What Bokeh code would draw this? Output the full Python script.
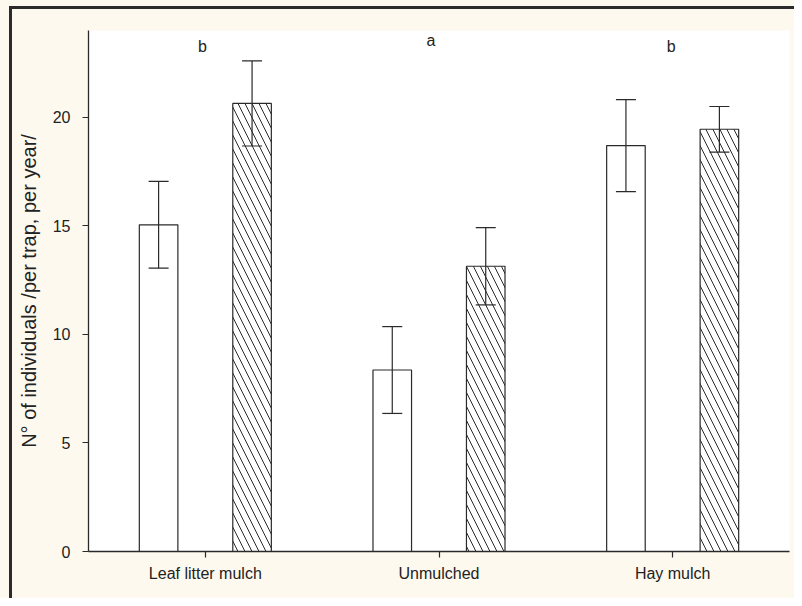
from bokeh.plotting import figure
from bokeh.models import ColumnDataSource, Whisker, TeeHead, Range1d, FixedTicker
from bokeh.transform import dodge
from bokeh.core.properties import value
from bokeh.embed import file_html
from bokeh.resources import INLINE

# ---- data ----
categories = ["Leaf litter mulch", "Unmulched", "Hay mulch"]
open_means = [15.05, 8.36, 18.70]
open_err = [2.0, 2.0, 2.12]
hatched_means = [20.64, 13.14, 19.45]
hatched_err = [1.96, 1.78, 1.05]
letters = ["b", "a", "b"]
letter_y = [23.0, 23.27, 23.0]
letter_dx = [-3, -8, -1.5]
y_ticks = [0, 5, 10, 15, 20]
y_label = "N\u00b0 of individuals /per trap, per year/"

src = ColumnDataSource(dict(
    cat=categories,
    open=open_means,
    open_hi=[m + e for m, e in zip(open_means, open_err)],
    open_lo=[m - e for m, e in zip(open_means, open_err)],
    hat=hatched_means,
    hat_hi=[m + e for m, e in zip(hatched_means, hatched_err)],
    hat_lo=[m - e for m, e in zip(hatched_means, hatched_err)],
    letter=letters,
    ly=letter_y,
    ldx=letter_dx,
))

FONT = "Liberation Sans"
INK = "#2a2a2a"
CREAM = "#fef9ee"
DARK = "#2b2b2b"

p = figure(x_range=categories, y_range=Range1d(0, 24),
           width=794, height=598, output_backend="svg", toolbar_location=None,
           min_border_left=88, min_border_right=5, min_border_top=30, min_border_bottom=47)
p.x_range.range_padding = 0
p.background_fill_color = "white"
p.border_fill_color = CREAM
p.border_fill_alpha = 0
p.outline_line_color = None
p.xgrid.visible = False
p.ygrid.visible = False
p.styles = {
    "background": (
        f"linear-gradient({DARK}, {DARK}) 9px 6px / 3px 100% no-repeat, "
        f"linear-gradient({DARK}, {DARK}) 9px 6px / 100% 3px no-repeat, "
        f"{CREAM}"
    )
}

OFF = 0.2
W = 0.165

p.vbar(x=dodge("cat", -OFF, range=p.x_range), top="open", width=W, source=src,
       fill_color="white", line_color=INK, line_width=1.2)
p.vbar(x=dodge("cat", OFF, range=p.x_range), top="hat", width=W, source=src,
       fill_color="white", line_color=INK, line_width=1.2,
       hatch_pattern="\\", hatch_scale=14, hatch_color=INK, hatch_weight=1)

for off, hi, lo in [(-OFF, "open_hi", "open_lo"), (OFF, "hat_hi", "hat_lo")]:
    w = Whisker(source=src, base=dodge("cat", off, range=p.x_range), upper=hi, lower=lo,
                line_color=INK, line_width=1.2,
                upper_head=TeeHead(size=20, line_color=INK, line_width=1.2),
                lower_head=TeeHead(size=20, line_color=INK, line_width=1.2),
                level="overlay")
    p.add_layout(w)

p.text(x="cat", y="ly", text="letter", x_offset="ldx", y_offset=-6, source=src,
       text_font=value(FONT), text_font_size="16px", text_color="#222",
       text_align="center", text_baseline="alphabetic")

for ax in (p.xaxis[0], p.yaxis[0]):
    ax.axis_line_color = INK
    ax.axis_line_width = 1.3
    ax.major_tick_line_color = INK
    ax.major_tick_line_width = 1.2
    ax.major_tick_in = 0
    ax.major_tick_out = 6
    ax.minor_tick_line_color = None
    ax.major_label_text_font = FONT
    ax.major_label_text_font_size = "16px"
    ax.major_label_text_color = "#222"

p.yaxis[0].ticker = FixedTicker(ticks=y_ticks)
p.yaxis[0].major_label_standoff = 12
p.yaxis[0].axis_label = y_label
p.yaxis[0].axis_label_text_font = FONT
p.yaxis[0].axis_label_text_font_size = "20px"
p.yaxis[0].axis_label_text_font_style = "normal"
p.yaxis[0].axis_label_text_color = "#222"
p.yaxis[0].axis_label_standoff = 10
p.xaxis[0].major_label_standoff = 7

open("out.html", "w").write(file_html(p, INLINE))
